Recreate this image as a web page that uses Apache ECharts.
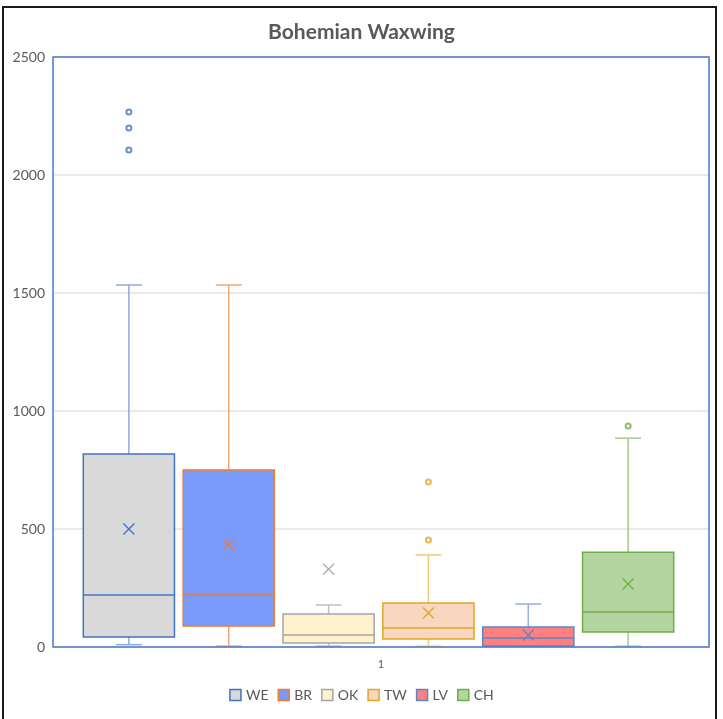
<!DOCTYPE html>
<html><head><meta charset="utf-8">
<script src="https://cdn.jsdelivr.net/npm/echarts@6/dist/echarts.min.js"></script>
<style>html,body{margin:0;padding:0;background:#fff;}#c{width:723px;height:719px;}</style>
</head><body><div id="c"></div>
<script>
const groups = ['WE', 'BR', 'OK', 'TW', 'LV', 'CH'];
const mins    = [10,   4,   4,   3,   4,   3];
const q1s     = [42,   89,  17,  34,  4,   64];
const medians = [220,  220, 51,  80,  38,  148];
const q3s     = [818,  750, 140, 186, 85,  402];
const maxs    = [1534, 1534, 178, 390, 182, 885];
const means   = [500,  432, 330, 144, 51,  267];
const outliers = [[2267, 2199, 2106], [], [], [699, 453], [], [936]];
const xCategories = ['1'];
const yTicks = {min: 0, max: 2500, interval: 500};

const fills   = ['#d9d9d9', '#7a9bfc', '#fff2cc', '#f8d7be', '#ff8080', '#b5d5a0'];
const borders = ['#4472c4', '#ed7d31', '#a5a5a5', '#e0a62a', '#5b85c8', '#70ad47'];
const whisk   = ['#8eaadc', '#f0a878', '#c0c0c0', '#eccb7a', '#94b0dc', '#a3c98b'];
const textColor = '#595959';
const font = 'Lato, "Open Sans", sans-serif';

function renderItem(params, api) {
  const gi = params.seriesIndex;
  const i = api.value(0);
  const unit = api.size([1, 0])[0];
  const bw = unit * 0.913, cap = unit * 0.26, mk = 5.5;
  const pMin = api.coord([i, api.value(1)]);
  const pQ1 = api.coord([i, api.value(2)]);
  const pMed = api.coord([i, api.value(3)]);
  const pQ3 = api.coord([i, api.value(4)]);
  const pMax = api.coord([i, api.value(5)]);
  const pMean = api.coord([i, api.value(6)]);
  const x = pMed[0];
  const bc = borders[gi], wc = whisk[gi];
  const line = (x1, y1, x2, y2, c, w) => ({type: 'line', shape: {x1, y1, x2, y2}, style: {stroke: c, lineWidth: w || 1.5}});
  return {type: 'group', children: [
    line(x, pQ3[1], x, pMax[1], wc),
    line(x, pQ1[1], x, pMin[1], wc),
    line(x - cap / 2, pMax[1], x + cap / 2, pMax[1], wc),
    line(x - cap / 2, pMin[1], x + cap / 2, pMin[1], wc),
    {type: 'rect', shape: {x: x - bw / 2, y: pQ3[1], width: bw, height: pQ1[1] - pQ3[1]},
     style: {fill: fills[gi], stroke: bc, lineWidth: 1.5}},
    line(x - bw / 2, pMed[1], x + bw / 2, pMed[1], bc),
    line(x - mk, pMean[1] - mk, x + mk, pMean[1] + mk, bc, 1.3),
    line(x - mk, pMean[1] + mk, x + mk, pMean[1] - mk, bc, 1.3)
  ]};
}

const series = [];
groups.forEach((g, k) => {
  series.push({
    name: g, type: 'custom', xAxisIndex: 1, yAxisIndex: 0,
    renderItem: renderItem,
    data: [[k, mins[k], q1s[k], medians[k], q3s[k], maxs[k], means[k]]],
    encode: {x: 0, y: [1, 2, 3, 4, 5, 6]},
    z: 3
  });
});
groups.forEach((g, k) => {
  if (outliers[k].length) series.push({
    name: g, type: 'scatter', xAxisIndex: 1, yAxisIndex: 0,
    symbol: 'emptyCircle', symbolSize: 5,
    itemStyle: {color: borders[k], borderColor: borders[k], borderWidth: 1.3},
    data: outliers[k].map(v => [k, v]), z: 4
  });
});

const chart = echarts.init(document.getElementById('c'), null, {renderer: 'canvas'});
chart.setOption({
  backgroundColor: '#fff',
  animation: false,
  title: {text: 'Bohemian Waxwing', left: 'center', top: 17,
    textStyle: {color: textColor, fontSize: 21, fontWeight: 'bold', fontFamily: font}},
  graphic: [
    {type: 'rect', shape: {x: 3, y: 7, width: 713, height: 730},
     style: {fill: 'none', stroke: '#1a1a1a', lineWidth: 2}, silent: true, z: 100},
    {type: 'rect', shape: {x: 53, y: 57, width: 656, height: 590},
     style: {fill: 'none', stroke: '#4a78c8', lineWidth: 1.5}, silent: true, z: 50}
  ],
  grid: {left: 53, top: 57, right: 14, bottom: 72, show: false},
  legend: {
    bottom: 12, left: 'center', icon: 'rect', itemWidth: 11, itemHeight: 11, itemGap: 9,
    textStyle: {color: textColor, fontSize: 14, fontFamily: font},
    data: groups.map((g, k) => ({name: g, itemStyle: {color: fills[k], borderColor: borders[k], borderWidth: 1.5}}))
  },
  xAxis: [
    {type: 'category', data: xCategories, position: 'bottom',
     axisLine: {show: false}, axisTick: {show: false}, splitLine: {show: false},
     axisLabel: {color: textColor, fontSize: 11, fontFamily: font, margin: 12}},
    {type: 'value', min: -0.76, max: 5.81, show: false}
  ],
  yAxis: {type: 'value', min: yTicks.min, max: yTicks.max, interval: yTicks.interval,
    axisLine: {show: false}, axisTick: {show: false},
    axisLabel: {color: textColor, fontSize: 14, fontFamily: font, margin: 8, formatter: v => String(v)},
    splitLine: {lineStyle: {color: '#e3e3e3', width: 1.5}}},
  series: series
});
</script></body></html>
